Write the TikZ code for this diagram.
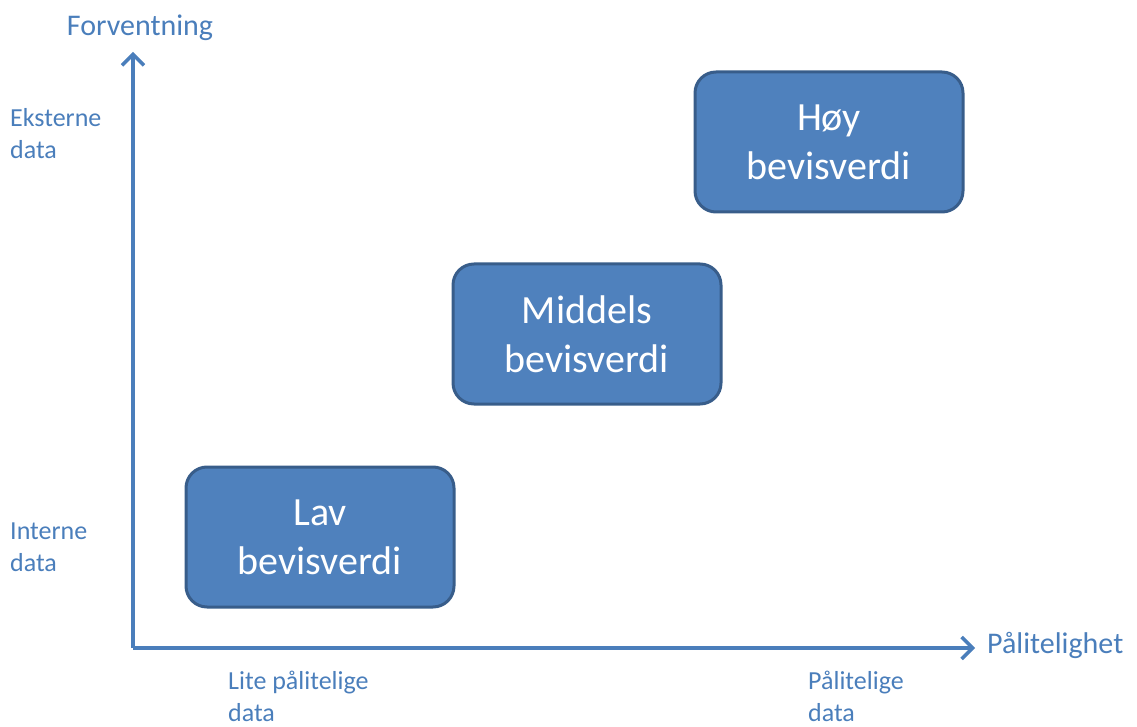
\documentclass[tikz,border=0pt]{standalone}
\usepackage{fontspec}
\setmainfont{Carlito}
\usetikzlibrary{arrows.meta,positioning}
\definecolor{boxblue}{HTML}{4F81BD}
\definecolor{boxedge}{HTML}{385D8A}
\definecolor{axisblue}{HTML}{4A7EBB}

\begin{document}
\begin{tikzpicture}[x=1pt, y=-1pt,
      valbox/.style={draw=boxedge, fill=boxblue, line width=3pt, rounded corners=21pt,
                     align=center, text=white, minimum width=268pt, minimum height=140pt,
                     font=\fontsize{40}{49}\selectfont},
      axtitle/.style={text=axisblue, inner sep=0pt, font=\fontsize{30}{36}\selectfont},
      axnote/.style={text=axisblue, inner sep=0pt, align=left, font=\fontsize{26}{32}\selectfont},
      axarr/.style={-{Straight Barb[length=11pt, width=22pt, line width=3.5pt]}, axisblue, line width=3.5pt}]
    \useasboundingbox (0,0) rectangle (1137,727);
    % axes
    \coordinate (origin) at (133,648);
    \coordinate (ytip) at (133,52);
    \coordinate (xtip) at (975,648);
    \draw[axarr] (origin) -- (ytip);
    \draw[axarr] (origin) -- (xtip);
    \node[axtitle] (ytitle) at (140,28) {Forventning};
    \node[axtitle, anchor=west] (xtitle) at (987,645) {Pålitelighet};
    % notes along the axes
    \node[axnote, anchor=west] (ext) at (10,134) {Eksterne\\data};
    \node[axnote, anchor=west] (int) at (10,547) {Interne\\data};
    \node[axnote, anchor=west] (lite) at (228,696) {Lite pålitelige\\data};
    \node[axnote, anchor=west] (reliable) at (808,696) {Pålitelige\\data};
    % evidence boxes
    \node[valbox] (low) at (320,537) {Lav\\bevisverdi};
    \node[valbox] (mid) at (587,334) {Middels\\bevisverdi};
    \node[valbox] (high) at (829,142) {Høy\\bevisverdi};
  \end{tikzpicture}
\end{document}
